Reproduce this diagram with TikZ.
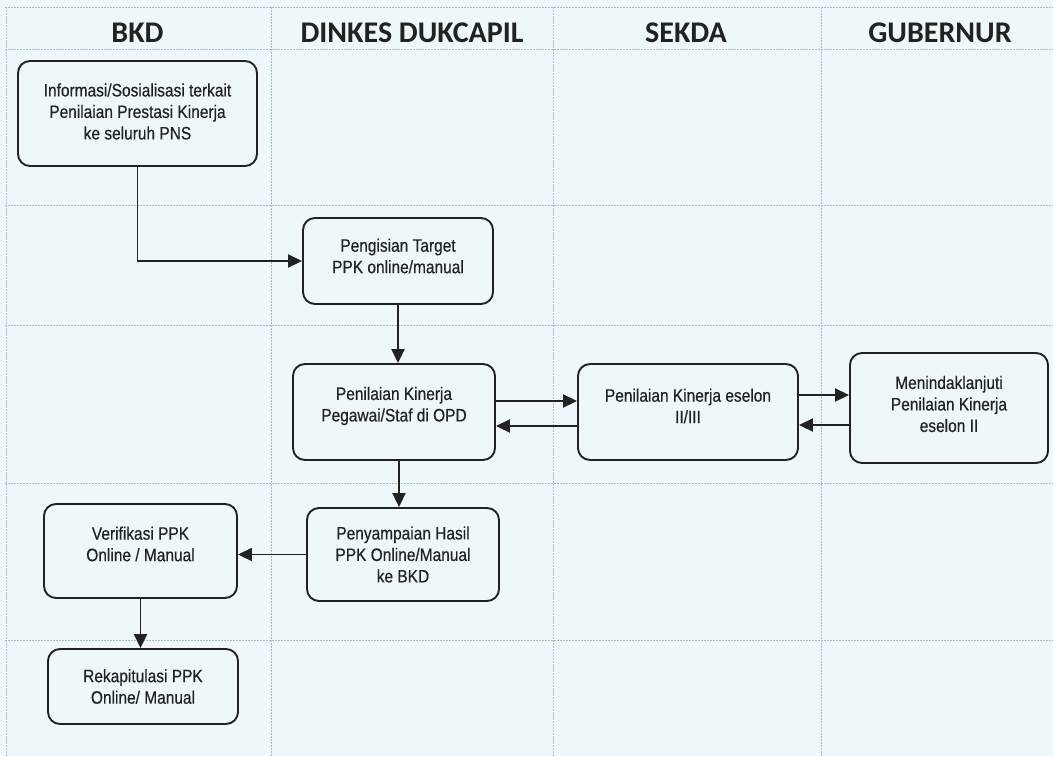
\documentclass[tikz,border=0pt]{standalone}
\usepackage{fontspec}
\setmainfont{Liberation Sans}
\newfontfamily\boxfont[FakeStretch=0.86,FakeBold=0.5]{Liberation Sans}
\newfontfamily\headfont{Carlito}
\usetikzlibrary{arrows.meta}
\definecolor{bgc}{HTML}{EEF8FB}
\definecolor{gridc}{HTML}{A6BECB}
\definecolor{inkc}{HTML}{222222}
\begin{document}
\begin{tikzpicture}[x=1pt,y=-1pt,
  gridline/.style={draw=gridc, line width=0.7pt, dash pattern=on 2pt off 1pt},
  head/.style={font=\headfont\bfseries\fontsize{30}{34}\selectfont, text=inkc, anchor=base, inner sep=0pt},
  stepbox/.style={draw=inkc, line width=1.9pt, rounded corners=12pt, inner sep=0pt},
  boxtext/.style={font=\boxfont\fontsize{18}{21.5}\selectfont, text=inkc, align=center, inner sep=0pt},
  arr/.style={draw=inkc, line width=1.9pt, -{Triangle[length=14pt,width=13pt]}}
]
\useasboundingbox (0,0) rectangle (1053,756);
\fill[bgc] (0,0) rectangle (1053,756);
% grid
\draw[gridline] (5,7) -- (1053,7);
\draw[gridline] (5,49) -- (1053,49);
\draw[gridline] (5,205) -- (1053,205);
\draw[gridline] (5,325) -- (1053,325);
\draw[gridline] (5,483) -- (1053,483);
\draw[gridline] (5,640) -- (1053,640);
\draw[gridline] (6,7) -- (6,756);
\draw[gridline] (271,7) -- (271,756);
\draw[gridline] (553,7) -- (553,756);
\draw[gridline] (821,7) -- (821,756);
% headers
\node[head] (h1) at (137.5,42) {BKD};
\node[head] (h2) at (412,42) {DINKES DUKCAPIL};
\node[head] (h3) at (686,42) {SEKDA};
\node[head] (h4) at (940,42) {GUBERNUR};
% boxes
\node[stepbox, minimum width=239pt, minimum height=105pt,
  label={[boxtext,yshift=2pt]center:{Informasi/Sosialisasi terkait\\Penilaian Prestasi Kinerja\\ke seluruh PNS}}] (b1) at (137.5,113.5) {};
\node[stepbox, minimum width=190pt, minimum height=86pt,
  label={[boxtext,yshift=5pt]center:{Pengisian Target\\PPK online/manual}}] (b2) at (398,261) {};
\node[stepbox, minimum width=202pt, minimum height=96pt,
  label={[boxtext,yshift=6pt]center:{Penilaian Kinerja\\Pegawai/Staf di OPD}}] (b3) at (394,412) {};
\node[stepbox, minimum width=220pt, minimum height=96pt,
  label={[boxtext,yshift=6pt]center:{Penilaian Kinerja eselon\\II/III}}] (b4) at (688,412) {};
\node[stepbox, minimum width=198pt, minimum height=110pt,
  label={[boxtext,yshift=4pt]center:{Menindaklanjuti\\Penilaian Kinerja\\eselon II}}] (b5) at (949,408) {};
\node[stepbox, minimum width=193pt, minimum height=94pt,
  label={[boxtext,yshift=7pt]center:{Verifikasi PPK\\Online / Manual}}] (b6) at (140.5,551) {};
\node[stepbox, minimum width=192pt, minimum height=93pt,
  label={[boxtext,yshift=0pt]center:{Penyampaian Hasil\\PPK Online/Manual\\ke BKD}}] (b7) at (403,554.5) {};
\node[stepbox, minimum width=190pt, minimum height=75pt,
  label={[boxtext,yshift=0pt]center:{Rekapitulasi PPK\\Online/ Manual}}] (b8) at (143,686.5) {};
% connectors
\draw[arr] (b1.south) |- (b2.west);
\draw[arr] (b2.south) -- (b2.south |- b3.north);
\draw[arr] ([yshift=11pt]b3.east) -- ([yshift=11pt]b3.east -| b4.west);
\draw[arr] ([yshift=-14pt]b4.west) -- ([yshift=-14pt]b4.west -| b3.east);
\draw[arr] ([yshift=17pt]b4.east) -- ([yshift=17pt]b4.east -| b5.west);
\draw[arr] ([yshift=-13pt]b4.east -| b5.west) -- ([yshift=-13pt]b4.east);
\draw[arr] ([xshift=5pt]b3.south) -- ([xshift=5pt]b3.south |- b7.north);
\draw[arr] (b7.west) -- (b7.west -| b6.east);
\draw[arr] (b6.south) -- (b6.south |- b8.north);
\end{tikzpicture}
\end{document}
